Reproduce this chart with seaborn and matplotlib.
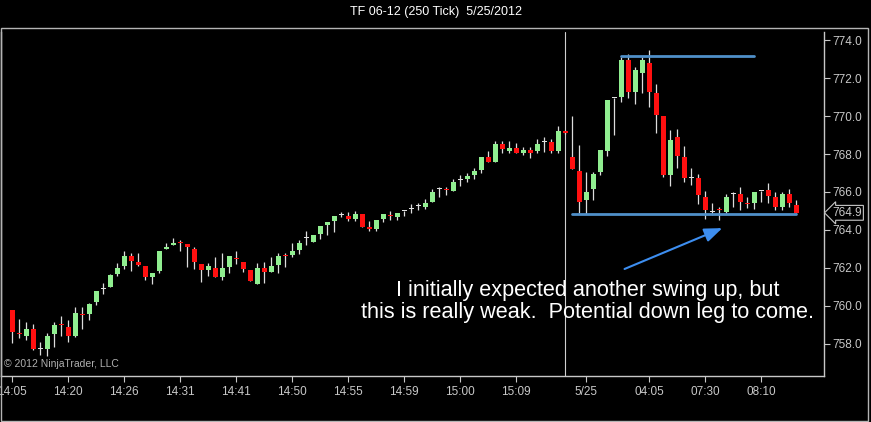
import numpy as np
import pandas as pd
import matplotlib.pyplot as plt
from matplotlib.patches import Rectangle
import seaborn as sns

# 250 tick bars, TF 06-12
opens = [759.75, 758.52, 758.38, 758.78, 757.73, 757.71, 758.48, 759.00, 758.89, 758.38,
         759.54, 759.57, 760.17, 760.89, 760.96, 761.68, 762.07, 762.63, 762.31, 762.10,
         761.49, 761.85, 762.98, 763.19, 763.35, 763.23, 763.00, 762.21, 761.86, 762.00,
         761.49, 762.05, 762.51, 762.30, 761.90, 761.17, 762.00, 761.79, 762.16, 762.64,
         762.66, 762.94, 763.57, 763.38, 763.78, 764.24, 764.49, 764.79, 764.75, 764.59,
         764.84, 764.10, 764.06, 764.56, 764.75, 764.68, 765.00, 765.12, 765.26, 765.22,
         765.47, 766.14, 766.12, 766.07, 766.63, 766.67, 766.88, 767.16, 767.86, 767.60,
         768.53, 768.16, 768.30, 768.07, 768.21, 768.18, 768.64, 768.64, 768.18, 769.20,
         767.86, 767.12, 765.58, 766.16, 767.04, 768.18, 770.94, 771.03, 772.96, 771.29,
         772.29, 772.79, 771.24, 770.01, 766.90, 768.88, 767.86, 766.72, 766.72, 765.75,
         764.96, 765.07, 764.96, 765.88, 765.89, 765.42, 765.40, 766.07, 766.10, 765.75,
         765.19, 765.89, 765.31]
highs = [759.78, 759.29, 759.15, 759.01, 758.11, 758.55, 759.15, 759.47, 759.25, 759.92,
         759.92, 760.12, 760.80, 761.19, 761.65, 762.24, 762.89, 762.80, 762.80, 762.10,
         761.75, 762.89, 763.33, 763.55, 763.44, 763.25, 763.10, 762.21, 762.24, 762.57,
         762.78, 762.63, 762.88, 762.30, 761.90, 762.25, 762.33, 762.59, 762.77, 762.77,
         763.33, 763.47, 763.96, 763.73, 764.20, 764.42, 764.73, 764.94, 764.94, 765.00,
         764.84, 764.47, 764.50, 764.84, 765.01, 764.89, 765.00, 765.37, 765.44, 765.65,
         766.14, 766.24, 766.24, 766.70, 766.88, 766.98, 767.25, 767.83, 768.16, 768.71,
         768.71, 768.67, 768.56, 768.35, 768.35, 768.78, 768.88, 768.78, 769.48, 769.25,
         770.00, 768.48, 767.04, 767.07, 768.21, 770.85, 770.94, 773.10, 773.28, 772.57,
         773.10, 773.49, 771.70, 770.01, 769.27, 769.30, 768.44, 767.25, 766.95, 766.05,
         765.40, 765.23, 765.89, 766.02, 766.28, 765.75, 765.98, 766.07, 766.45, 766.02,
         766.02, 766.14, 765.58]
lows = [758.02, 758.29, 758.20, 757.67, 757.41, 757.32, 757.81, 758.41, 758.11, 758.36,
        758.76, 759.22, 760.03, 760.63, 760.96, 761.57, 761.93, 761.82, 762.07, 761.33,
        761.14, 761.72, 762.98, 763.19, 762.87, 762.02, 761.93, 761.23, 761.55, 761.49,
        761.33, 761.75, 762.22, 761.80, 761.28, 761.17, 761.22, 761.79, 761.75, 762.02,
        762.55, 762.73, 763.20, 763.38, 763.54, 763.73, 763.90, 764.66, 764.47, 764.49,
        764.17, 763.94, 763.94, 764.43, 764.52, 764.52, 764.75, 764.91, 765.05, 765.08,
        765.47, 765.75, 765.84, 766.07, 766.31, 766.53, 766.67, 766.98, 767.58, 767.60,
        768.04, 768.04, 768.07, 767.95, 767.77, 768.04, 768.13, 768.04, 768.04, 769.05,
        767.19, 764.87, 764.84, 765.58, 766.90, 767.90, 769.00, 770.76, 770.94, 770.64,
        771.24, 770.46, 769.13, 766.77, 766.33, 767.25, 766.54, 766.37, 765.37, 764.56,
        764.78, 764.52, 764.90, 765.23, 765.05, 765.14, 765.10, 765.49, 765.44, 765.05,
        765.05, 765.23, 764.87]
closes = [758.59, 758.48, 758.78, 757.71, 757.73, 758.41, 758.99, 758.97, 758.38, 759.62,
          759.50, 760.10, 760.78, 760.89, 761.63, 762.00, 762.63, 762.38, 762.17, 761.49,
          761.73, 762.88, 763.12, 763.33, 763.31, 763.09, 762.28, 761.86, 762.10, 761.49,
          762.00, 762.63, 762.48, 761.93, 761.28, 762.00, 761.79, 762.10, 762.64, 762.61,
          762.90, 763.33, 763.57, 763.73, 764.20, 764.42, 764.73, 764.79, 764.59, 764.86,
          764.17, 764.07, 764.50, 764.84, 764.72, 764.89, 765.00, 765.12, 765.26, 765.44,
          766.00, 766.14, 766.09, 766.53, 766.63, 766.84, 767.12, 767.83, 767.58, 768.53,
          768.28, 768.32, 768.07, 768.21, 768.07, 768.53, 768.64, 768.18, 769.20, 769.09,
          767.19, 765.49, 765.98, 766.93, 768.21, 770.85, 770.94, 772.96, 771.29, 772.43,
          772.96, 771.29, 770.06, 766.90, 768.74, 767.90, 766.72, 766.72, 765.84, 765.05,
          764.96, 765.03, 765.75, 765.88, 765.49, 765.38, 765.98, 766.07, 765.81, 765.19,
          765.89, 765.40, 764.90]

tick_bars = [0, 8, 16, 24, 32, 40, 48, 56, 64, 72, 82, 91, 99, 107]
tick_labels = ["14:05", "14:20", "14:26", "14:31", "14:41", "14:50", "14:55", "14:59",
               "15:00", "15:09", "5/25", "04:05", "07:30", "08:10"]
price_ticks = [758.0, 760.0, 762.0, 764.0, 766.0, 768.0, 770.0, 772.0, 774.0]

session_break = 79
resistance = 773.17
resistance_bars = [87, 106]
support = 764.84
support_bars = [80, 112]
last_price = 764.9

df = pd.DataFrame({"open": opens, "high": highs, "low": lows, "close": closes})
df["bar"] = np.arange(len(df))

sns.set_theme(style="dark", rc={"axes.facecolor": "black", "figure.facecolor": "black"})
plt.rcParams["font.family"] = ["Liberation Sans", "DejaVu Sans"]

fig = plt.figure(figsize=(8.71, 4.22), dpi=100)
ax = fig.add_axes([1 / 871, 1 - 376 / 422, 823 / 871, 344 / 422])
ax.set_facecolor("black")

# frame around the whole chart panel
fig.patches.append(Rectangle((1 / 871, 1.5 / 422), 867 / 871, 393 / 422,
                             transform=fig.transFigure, fill=False,
                             edgecolor="#b4b4b4", lw=1))

grey = "#c8c8c8"
ax.axvline(session_break, color="#d0d0d0", lw=0.8, zorder=1)

# candles
ax.vlines(df["bar"], df["low"], df["high"], color="#dcdcdc", lw=0.9, zorder=2)
colors = np.where(df["close"] > df["open"], "#90ee90",
                  np.where(df["close"] < df["open"], "#ff1010", "#e0e0e0"))
body_low = df[["open", "close"]].min(axis=1)
body_h = (df["close"] - df["open"]).abs().clip(lower=0.06)
ax.bar(df["bar"], body_h, bottom=body_low, width=0.74, color=colors, lw=0, zorder=3)

# support / resistance levels
lev = pd.DataFrame({"bar": resistance_bars + support_bars,
                    "price": [resistance] * 2 + [support] * 2,
                    "level": ["r", "r", "s", "s"]})
sns.lineplot(data=lev, x="bar", y="price", units="level", estimator=None,
             color="#4f8fc8", lw=2, ax=ax, zorder=4)

ax.annotate("", xy=(101.8, 764.15), xytext=(87.1, 761.88),
            arrowprops=dict(arrowstyle="-|>,head_length=0.9,head_width=0.35",
                            color="#3d8ef0", lw=1.5), zorder=5)

ax.text(82.2, 760.22, "I initially expected another swing up, but\n"
        "this is really weak.  Potential down leg to come.",
        color="white", fontsize=15.6, ha="center", va="center", linespacing=1.12)

ax.text(0.004, 0.02, "\u00a9 2012 NinjaTrader, LLC", transform=ax.transAxes,
        color="#b0b0b0", fontsize=7.5, ha="left", va="bottom")

ax.set_xlim(-1.614, 115.96)
ax.set_ylim(756.29, 774.44)
ax.set_xticks(tick_bars)
ax.set_xticklabels(tick_labels)
ax.yaxis.tick_right()
ax.set_yticks(price_ticks)
ax.set_yticklabels([f"{p:.1f}" for p in price_ticks])
ax.tick_params(axis="both", colors=grey, labelsize=8.5, length=4, width=0.8,
               direction="out", pad=2)
ax.tick_params(axis="x", pad=3, bottom=True)
ax.tick_params(axis="y", right=True, left=False)
ax.set_xlabel("")
ax.set_ylabel("")
ax.spines["top"].set_visible(False)
for side in ["bottom", "right", "left"]:
    ax.spines[side].set_visible(True)
    ax.spines[side].set_color(grey)
    ax.spines[side].set_linewidth(1)
ax.grid(False)

ax.annotate(f"{last_price:.1f}", xy=(1.0, last_price), xycoords=("axes fraction", "data"),
            xytext=(6, 0), textcoords="offset points", color=grey, fontsize=8.5,
            va="center", ha="left",
            bbox=dict(boxstyle="larrow,pad=0.12", fc="black", ec=grey, lw=0.8))

fig.text(0.5, 1 - 12 / 422, "TF 06-12 (250 Tick)  5/25/2012", color="white",
         fontsize=9, ha="center", va="center")

fig.savefig("out.png", dpi=100, facecolor="black")
